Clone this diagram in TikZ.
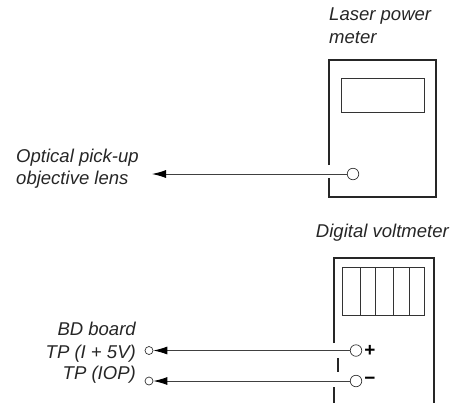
\documentclass[tikz,border=0pt]{standalone}
\usepackage{fontspec}
\setmainfont{Liberation Sans}
\usetikzlibrary{arrows.meta}
\tikzset{
  x=1bp,y=-1bp,
  label text/.style={font=\itshape\fontsize{18.6}{20}\selectfont,text=black!85,inner sep=0pt},
  wall/.style={line width=1.2pt,black!85},
  panel/.style={line width=0.8pt,black!80},
  terminal/.style={circle,draw=black!80,fill=white,line width=0.7pt,minimum size=11.5bp,inner sep=0pt},
  port/.style={circle,draw=black!80,fill=white,line width=0.7pt,minimum size=8bp,inner sep=0pt},
  lead/.style={line width=0.9pt,black!75,-{Latex[length=14bp,width=8bp,black]}}
}
\begin{document}
\begin{tikzpicture}
\useasboundingbox (0,0) rectangle (458,403);
% laser power meter
\draw[wall] (329,165) -- (329,60) -- (436,60) -- (436,197) -- (329,197) -- (329,178);
\draw[panel] (341,78) rectangle (424,112);
\node[terminal] (t1) at (353,174) {};
\coordinate (lens) at (152,174);
\draw[lead] (t1) -- (lens);
\node[label text,anchor=base west] (lp) at (329,20) {Laser power};
\node[label text,anchor=base west] (lm) at (329,43) {meter};
\node[label text,anchor=base west] (o1) at (16,162) {Optical pick-up};
\node[label text,anchor=base west] (o2) at (16,184) {objective lens};
% digital voltmeter
\draw[wall] (334,343) -- (334,258) -- (434,258) -- (434,402.5);
\draw[wall] (338,358) -- (338,372);
\draw[wall] (334,387) -- (334,402.5);
\draw[panel] (342.5,267) rectangle (424,315);
\foreach \d in {360,375.5,393,409} \draw[panel] (\d,267) -- (\d,315);
\node[terminal] (p) at (356,350.5) {};
\node[terminal] (m) at (356,381) {};
\node[port] (a) at (149,350.5) {};
\node[port] (b) at (149,381) {};
\draw[lead] (p) -- (a);
\draw[lead] (m) -- (b);
\node[inner sep=0pt,font=\bfseries\fontsize{19}{19}\selectfont] (plus) at (370,350.5) {+};
\node[inner sep=0pt,font=\bfseries\fontsize{19}{19}\selectfont] (minus) at (370,381) {\textminus};
\node[label text,anchor=base east] (dv) at (449,237) {Digital voltmeter};
\node[label text,anchor=base east] (bd) at (136,335) {BD board};
\node[label text,anchor=base east] (tp1) at (136,358) {TP (I + 5V)};
\node[label text,anchor=base east] (tp2) at (136,379) {TP (IOP)};
\end{tikzpicture}
\end{document}
